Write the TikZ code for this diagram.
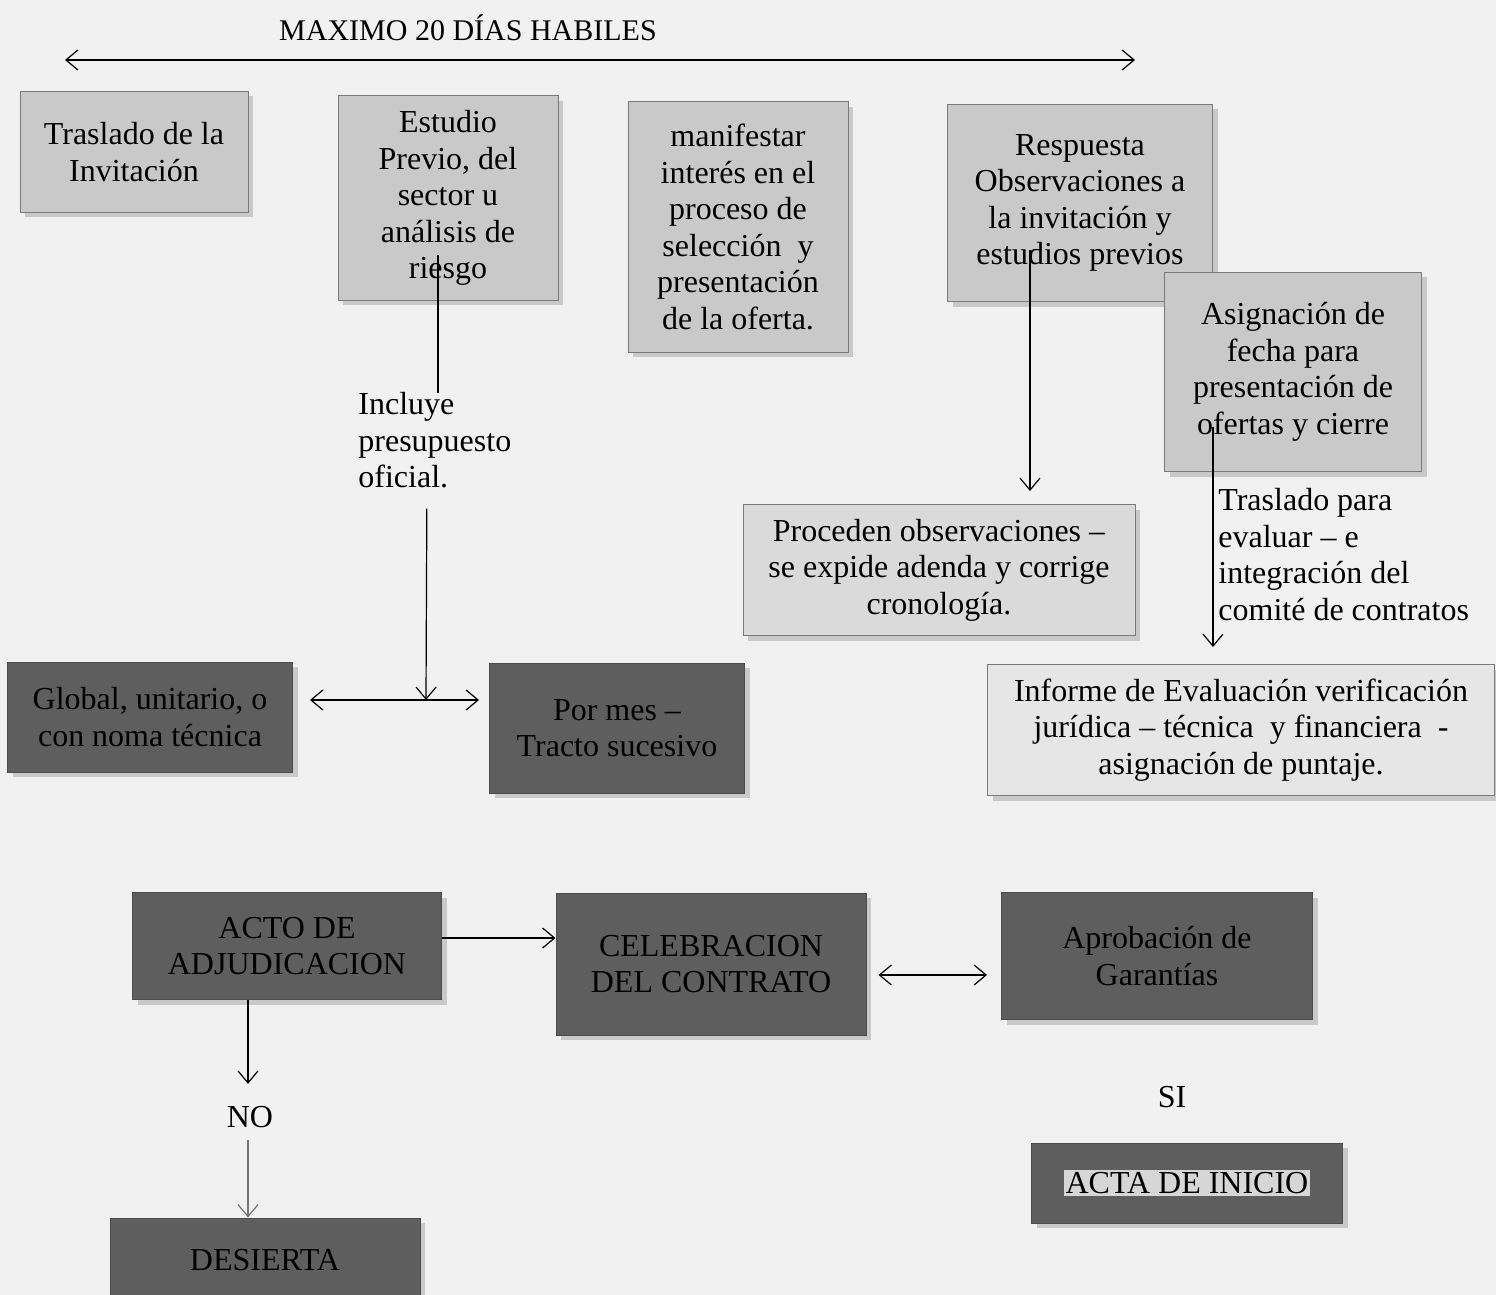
\documentclass[tikz,border=0pt]{standalone}
\usepackage{fontspec}
\setmainfont{Liberation Serif}
\usetikzlibrary{arrows.meta, positioning, calc, shadows}
\definecolor{paper}{HTML}{F1F1F1}
\definecolor{boxgray}{HTML}{C9C9C9}
\definecolor{softgray}{HTML}{DADADA}
\definecolor{palegray}{HTML}{E6E6E6}
\definecolor{darkgray}{HTML}{5E5E5E}
\definecolor{edge}{HTML}{7A7A7A}
\definecolor{hilite}{HTML}{D6D6D6}

\begin{document}
\begin{tikzpicture}[
  x=0.5pt, y=-0.5pt,
  >={Straight Barb[length=6pt, width=10pt]},
  flow/.style={line width=0.6pt, black},
  lightbox/.style={
    draw=edge, line width=0.5pt, fill=#1, align=center, inner sep=3pt,
    font=\fontsize{16}{18.3}\selectfont, text=black,
    drop shadow={shadow xshift=2.5pt, shadow yshift=-2.5pt, opacity=0.35}
  },
  darkbox/.style={
    draw=black!70, line width=0.5pt, fill=darkgray, align=center, inner sep=3pt,
    font=\fontsize{16}{18.3}\selectfont, text=black,
    drop shadow={shadow xshift=2.5pt, shadow yshift=-2.5pt, opacity=0.35}
  },
  lbl/.style={font=\fontsize{16}{18.3}\selectfont, text=black, align=left, inner sep=1pt},
]

% Background
\fill[paper] (0,0) rectangle (1496,1295);
\useasboundingbox (0,0) rectangle (1496,1295);

% Title and time span
\node[font=\fontsize{15}{18}\selectfont] (title) at (468,28) {MAXIMO 20 DÍAS HABILES};
\coordinate (spanl) at (65,60);
\coordinate (spanr) at (1135,60);
\draw[<->, flow] (spanl) -- (spanr);

% =============================================
% Top row
% =============================================
\node[lightbox=boxgray, minimum width=114pt, minimum height=60.5pt]
  (traslado) at (134,152) {Traslado de la\\Invitación};
\node[lightbox=boxgray, minimum width=110pt, minimum height=102pt]
  (estudio) at (448,198) {Estudio\\Previo, del\\sector u\\análisis de\\riesgo};
\node[lightbox=boxgray, minimum width=110pt, minimum height=125pt]
  (manifestar) at (738,227) {manifestar\\interés en el\\proceso de\\selección~ y\\presentación\\de la oferta.};
\node[lightbox=boxgray, minimum width=132.5pt, minimum height=98.5pt]
  (respuesta) at (1080,203) {Respuesta\\Observaciones a\\la invitación y\\estudios previos};
\node[lightbox=boxgray, minimum width=128.5pt, minimum height=99.5pt]
  (asignacion) at (1293,372) {Asignación de\\fecha para\\presentación de\\ofertas y cierre};

% =============================================
% Middle row
% =============================================
\node[lbl, anchor=north west] (incluye) at (356,390) {Incluye\\presupuesto\\oficial.};
\node[lightbox=softgray, minimum width=196pt, minimum height=65.5pt]
  (proceden) at (939,570) {Proceden observaciones --\\se expide adenda y corrige\\cronología.};
\node[lbl, anchor=north west] (evaluar) at (1216,486)
  {Traslado para\\evaluar -- e\\integración del\\comité de contratos};
\node[lightbox=palegray, minimum width=253.5pt, minimum height=65.5pt]
  (informe) at (1241,730) {Informe de Evaluación verificación\\jurídica -- técnica~ y financiera~ -\\asignación de puntaje.};

\node[darkbox, minimum width=142.5pt, minimum height=55pt]
  (global) at (150,717) {Global, unitario, o\\con noma técnica};
\node[darkbox, minimum width=127.5pt, minimum height=65pt]
  (pormes) at (617,728) {Por mes --\\Tracto sucesivo};
\coordinate (split) at (426,700);

% =============================================
% Bottom row
% =============================================
\node[darkbox, minimum width=154.5pt, minimum height=53.5pt]
  (acto) at (287,946) {ACTO DE\\ADJUDICACION};
\node[darkbox, minimum width=155pt, minimum height=71pt]
  (celebracion) at (711,964) {CELEBRACION\\DEL CONTRATO};
\node[darkbox, minimum width=155.5pt, minimum height=63.5pt]
  (aprobacion) at (1157,956) {Aprobación de\\Garantías};
\node[lbl] (no) at (250,1117) {NO};
\node[lbl] (si) at (1172,1097) {SI};
\node[darkbox, minimum width=155.5pt, minimum height=40pt]
  (acta) at (1187,1183) {\setlength{\fboxsep}{1pt}\colorbox{hilite}{ACTA DE INICIO}};
\node[darkbox, minimum width=155pt, minimum height=42pt]
  (desierta) at (265,1260) {DESIERTA};

% =============================================
% Arrows
% =============================================

% Estudio -> presupuesto -> tipo de pago
\coordinate (est) at ($(estudio.south)+(-10,-45)$);
\draw[flow] (est) -- ($(est |- incluye.north)+(0,3)$);
\draw[->, flow] ($(incluye.south)+(-8,18)$) -- (split);
\draw[<->, flow] ($(split -| global.east)+(17,0)$) -- ($(split -| pormes.west)+(-10,0)$);

% Respuesta -> observaciones
\coordinate (rsp) at ($(respuesta.center)+(-50,47)$);
\draw[->, flow] (rsp) -- ($(rsp |- proceden.north)+(0,-13)$);

% Asignacion -> informe
\coordinate (asg) at ($(asignacion.center)+(-80,55)$);
\draw[->, flow] (asg) -- ($(asg |- informe.north)+(0,-17)$);

% Adjudicacion -> contrato <-> garantias
\coordinate (adj) at ($(acto.east)+(0,-8)$);
\draw[->, flow] (adj) -- (adj -| celebracion.west);
\coordinate (cel) at ($(celebracion.east)+(12,11)$);
\draw[<->, flow] (cel) -- ($(cel -| aprobacion.west)+(-14,0)$);

% Adjudicacion -> desierta
\coordinate (adjs) at ($(acto.south)+(-39,0)$);
\draw[->, flow] (adjs) -- ($(adjs |- no.north)+(0,-20)$);
\draw[->, flow, black!55] ($(adjs |- no.south)+(0,10)$) -- (adjs |- desierta.north);

\end{tikzpicture}
\end{document}
